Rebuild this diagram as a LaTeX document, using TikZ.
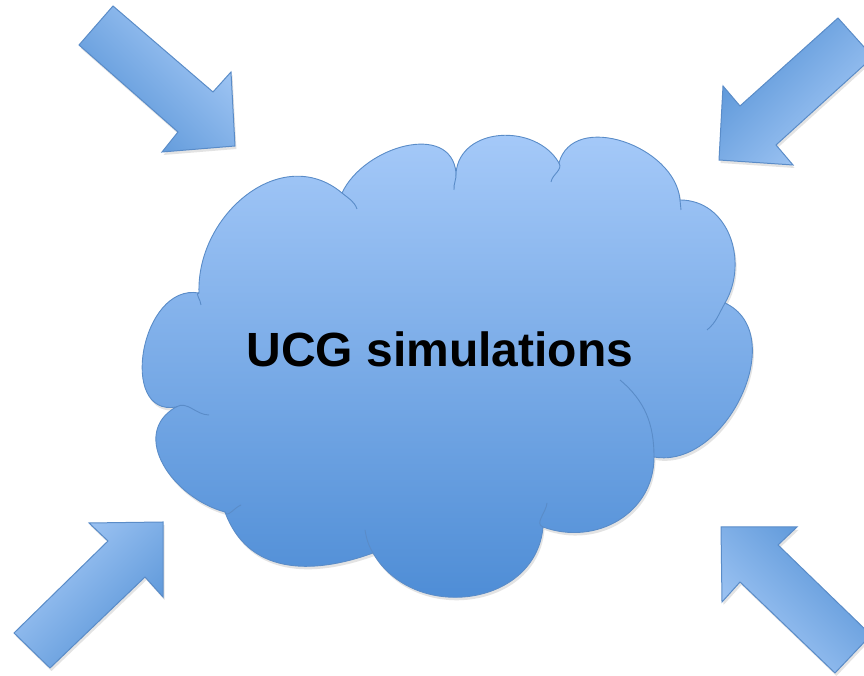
\documentclass[tikz,border=0pt]{standalone}
\usepackage{fontspec}
\newfontfamily\labelfont{Liberation Sans}
\usetikzlibrary{calc,shadows}

\definecolor{cloudtop}{HTML}{A9CCFA}
\definecolor{cloudbottom}{HTML}{4A8AD4}
\definecolor{cloudedge}{HTML}{5A8CC8}
\definecolor{arrowlight}{HTML}{A8CBF7}
\definecolor{arrowdark}{HTML}{5592D6}

\tikzset{
  softshadow/.style={drop shadow={shadow xshift=1.5pt, shadow yshift=-3pt,
    opacity=0.18, fill=black!60}},
  blockarrow/.style={draw=cloudedge, line width=1pt, line join=miter, softshadow,
    top color=arrowlight, bottom color=arrowdark},
  cloudline/.style={draw=cloudedge, line width=0.9pt},
}

\begin{document}
\begin{tikzpicture}[x=1pt, y=1pt]
  \useasboundingbox (0,0) rectangle (864,676);
  \clip (0,0) rectangle (864,676);

  % block arrows pointing in
  \path[blockarrow, shading angle=-45] (113,670) -- (213,584) -- (231,604) -- (235,530)
    -- (162,524) -- (178,544) -- (79,631) -- cycle;
  \path[blockarrow, shading angle=-135] (838,658) -- (740,570) -- (723,590) -- (719,516)
    -- (793,511) -- (776,531) -- (873,619) -- cycle;
  \path[blockarrow, shading angle=45] (14,43) -- (108,135) -- (89,153) -- (163,154)
    -- (163,79) -- (145,99) -- (50,8) -- cycle;
  \path[blockarrow, shading angle=135] (721,149) -- (797,149) -- (778,131) -- (871,41)
    -- (835,3) -- (740,94) -- (722,74) -- cycle;

  % cloud junctions
  \coordinate (j1) at (199,383);
  \coordinate (j2) at (342,483);
  \coordinate (j3) at (456,503);
  \coordinate (j4) at (559,513);
  \coordinate (j5) at (680,476);
  \coordinate (j6) at (725,373);
  \coordinate (j7) at (654,219);
  \coordinate (j8) at (543,149);
  \coordinate (j9) at (373,123);
  \coordinate (j10) at (225,164);
  \coordinate (j11) at (176,269);

  \path[cloudline, softshadow, top color=cloudtop, bottom color=cloudbottom]
    (j1) to[out=92, in=140, looseness=1.15] (j2)
    to[out=65, in=95, looseness=1.15] (j3)
    to[out=85, in=120, looseness=1.15] (j4)
    to[out=75, in=95, looseness=1.1] (j5)
    to[out=0, in=60, looseness=1.1] (j6)
    to[out=-25, in=-10, looseness=1.1] (j7)
    to[out=-90, in=-20, looseness=1.1] (j8)
    to[out=-95, in=-60, looseness=1.2] (j9)
    to[out=-160, in=-70, looseness=1.1] (j10)
    to[out=165, in=-150, looseness=1.2] (j11)
    to[out=190, in=170, looseness=1.3] (j1) -- cycle;

  % inner strokes of the cloud
  \draw[cloudline] (j2) to[out=-40, in=110] (357,467);
  \draw[cloudline] (j3) to[out=-85, in=95] (454,486);
  \draw[cloudline] (j4) to[out=-60, in=80] (551,494);
  \draw[cloudline] (j5) to[out=-85, in=95] (681,466);
  \draw[cloudline] (j6) to[out=-120, in=40] (707,346);
  \draw[cloudline] (j7) to[out=90, in=-40] (620,296);
  \draw[cloudline] (j8) to[out=160, in=-95] (547,173);
  \draw[cloudline] (j9) to[out=120, in=-80] (365,146);
  \draw[cloudline] (j10) to[out=-70, in=200] (241,171);
  \draw[cloudline] (j11) to[out=30, in=180] (209,261);
  \draw[cloudline] (j1) to[out=170, in=90] (201,371);

  \node (label) at (440,327) {\labelfont\bfseries\fontsize{48}{52}\selectfont UCG simulations};
\end{tikzpicture}
\end{document}
